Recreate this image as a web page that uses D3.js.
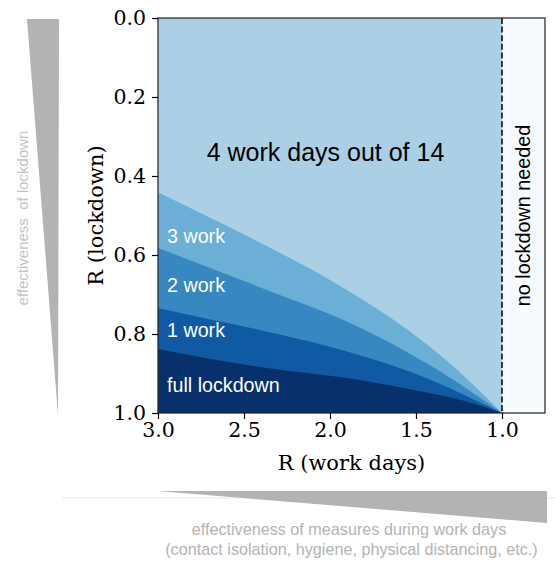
<!DOCTYPE html>
<html>
<head>
<meta charset="utf-8">
<script src="https://cdn.jsdelivr.net/npm/d3@7"></script>
<style>
  html, body { margin: 0; padding: 0; background: #fff; }
  svg { display: block; }
</style>
</head>
<body>
<svg id="chart" width="555" height="565"></svg>
<script>
// ---- data ----
const rWork  = [3.0, 2.75, 2.5, 2.25, 2.0, 1.75, 1.5, 1.25, 1.0];
const bound4 = [0.441, 0.494, 0.548, 0.604, 0.663, 0.730, 0.805, 0.895, 1.0];
const bound3 = [0.582, 0.624, 0.666, 0.708, 0.750, 0.800, 0.859, 0.925, 1.0];
const bound2 = [0.735, 0.758, 0.781, 0.806, 0.832, 0.864, 0.901, 0.948, 1.0];
const bound1 = [0.838, 0.859, 0.877, 0.893, 0.906, 0.922, 0.943, 0.966, 1.0];
const regionLabels = ["4 work days out of 14", "3 work", "2 work", "1 work", "full lockdown"];
const regionColors = ["#abd0e6", "#6baed6", "#3787c0", "#1059a3", "#08306b"];
const xTicks = [3.0, 2.5, 2.0, 1.5, 1.0];
const yTicks = [0.0, 0.2, 0.4, 0.6, 0.8, 1.0];
const xDomain = [3.0, 0.75];
const yDomain = [0.0, 1.0];
const threshold = 1.0;

const svg = d3.select("#chart");
const M = {left: 158, right: 545, top: 18, bottom: 413};
const x = d3.scaleLinear().domain(xDomain).range([M.left, M.right]);
const y = d3.scaleLinear().domain(yDomain).range([M.top, M.bottom]);

const sans = "'Liberation Sans', Arial, Helvetica, sans-serif";
const serif = "'DejaVu Serif', serif";

// base region (4 work days)
svg.append("rect")
  .attr("x", x(3.0)).attr("y", y(0))
  .attr("width", x(threshold) - x(3.0)).attr("height", y(1) - y(0))
  .attr("fill", regionColors[0]);

// no lockdown region
svg.append("rect")
  .attr("x", x(threshold)).attr("y", y(0))
  .attr("width", x(xDomain[1]) - x(threshold)).attr("height", y(1) - y(0))
  .attr("fill", "#f7fbff");

const bounds = [bound4, bound3, bound2, bound1];
const area = d3.area()
  .x(d => x(d.r)).y0(y(1)).y1(d => y(d.v))
  .curve(d3.curveNatural);

bounds.forEach((b, i) => {
  const pts = rWork.map((r, j) => ({r, v: b[j]}));
  svg.append("path").datum(pts)
    .attr("d", area)
    .attr("fill", regionColors[i + 1]);
});

// dashed threshold line
svg.append("line")
  .attr("x1", x(threshold)).attr("x2", x(threshold))
  .attr("y1", y(0)).attr("y2", y(1))
  .attr("stroke", "#000").attr("stroke-width", 1.5)
  .attr("stroke-dasharray", "6,2.6");

// frame
svg.append("rect")
  .attr("x", M.left).attr("y", M.top)
  .attr("width", M.right - M.left).attr("height", M.bottom - M.top)
  .attr("fill", "none").attr("stroke", "#222").attr("stroke-width", 1.2);

// axes
const yAxis = svg.append("g")
  .attr("transform", `translate(${M.left},0)`)
  .call(d3.axisLeft(y).tickValues(yTicks).tickFormat(d3.format(".1f")).tickSize(6).tickSizeOuter(0).tickPadding(6));
const xAxis = svg.append("g")
  .attr("transform", `translate(0,${M.bottom})`)
  .call(d3.axisBottom(x).tickValues(xTicks).tickFormat(d3.format(".1f")).tickSize(6).tickSizeOuter(0).tickPadding(3));
[yAxis, xAxis].forEach(g => {
  g.select(".domain").remove();
  g.selectAll(".tick line").attr("stroke", "#000").attr("stroke-width", 1.2);
  g.selectAll(".tick text").attr("fill", "#000")
    .style("font-family", serif).style("font-size", "20.5px");
});

// axis labels
svg.append("text")
  .attr("x", (M.left + M.right) / 2).attr("y", 470)
  .attr("text-anchor", "middle")
  .style("font-family", serif).style("font-size", "21px")
  .text("R (work days)");
svg.append("text")
  .attr("transform", `translate(103,${(M.top + M.bottom) / 2}) rotate(-90)`)
  .attr("text-anchor", "middle")
  .style("font-family", serif).style("font-size", "21px")
  .text("R (lockdown)");

// region labels
svg.append("text")
  .attr("x", 325.5).attr("y", 161)
  .attr("text-anchor", "middle")
  .style("font-family", sans).style("font-size", "25px")
  .attr("fill", "#000")
  .text(regionLabels[0]);
const labelY = [243, 291.5, 337, 392];
labelY.forEach((ly, i) => {
  svg.append("text")
    .attr("x", 167).attr("y", ly)
    .style("font-family", sans).style("font-size", "19.7px")
    .attr("fill", "#fff")
    .text(regionLabels[i + 1]);
});
svg.append("text")
  .attr("transform", `translate(530,${(M.top + M.bottom) / 2}) rotate(-90)`)
  .attr("text-anchor", "middle")
  .style("font-family", sans).style("font-size", "19.8px")
  .attr("fill", "#000")
  .text("no lockdown needed");

// left effectiveness wedge
svg.append("path")
  .attr("d", "M27,19 L59,19 L58,415 Z")
  .attr("fill", "#b3b3b3");
svg.append("text")
  .attr("transform", "translate(28,218) rotate(-90)")
  .attr("text-anchor", "middle")
  .style("font-family", sans).style("font-size", "15px")
  .attr("fill", "#c4c4c4")
  .attr("xml:space", "preserve")
  .text("effectiveness  of lockdown");

// bottom effectiveness wedge
svg.append("line")
  .attr("x1", 62).attr("x2", 557).attr("y1", 498).attr("y2", 498)
  .attr("stroke", "#e6e6e6").attr("stroke-width", 1);
svg.append("path")
  .attr("d", "M157,491 L547,491 L547,523 Z")
  .attr("fill", "#b3b3b3");
svg.append("text")
  .attr("x", 349).attr("y", 535)
  .attr("text-anchor", "middle")
  .style("font-family", sans).style("font-size", "16.2px")
  .attr("fill", "#b4b4b4")
  .text("effectiveness of measures during work days");
svg.append("text")
  .attr("x", 351.5).attr("y", 555)
  .attr("text-anchor", "middle")
  .style("font-family", sans).style("font-size", "16.2px")
  .attr("fill", "#b4b4b4")
  .text("(contact isolation, hygiene, physical distancing, etc.)");
</script>
</body>
</html>
